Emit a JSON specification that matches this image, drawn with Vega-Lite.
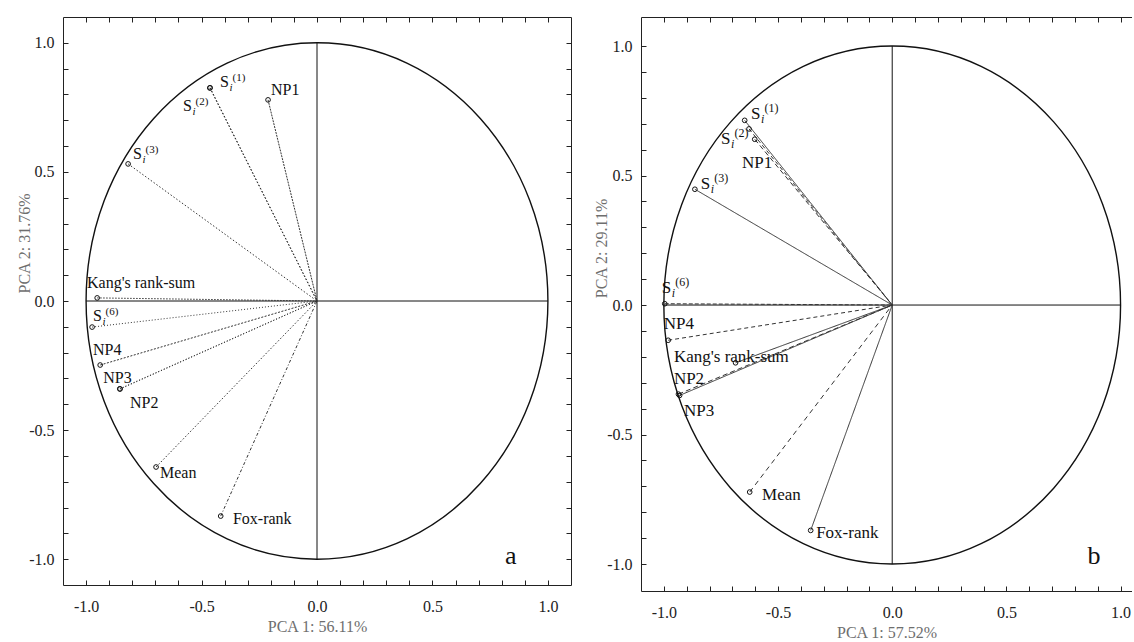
{
"$schema":"https://vega.github.io/schema/vega-lite/v6.json",
"padding":{"left":16,"top":16,"right":0,"bottom":0},
"background":"white",
"config":{"view":{"stroke":null},"font":"Liberation Serif",
 "axis":{"grid":false,"domainColor":"#222","tickColor":"#222","labelColor":"#222","labelFont":"Liberation Serif","labelFontSize":16,"titleFont":"Liberation Serif","titleFontSize":16,"titleFontWeight":"normal","titleColor":"#6e6e6e","labelOverlap":false,"labelFlush":false}},
"datasets":{
 "a":[
  {"var":"NP1","x":-0.212,"y":0.779,"lx":-0.199,"ly":0.798,"lab":"NP1"},
  {"var":"S1","x":-0.463,"y":0.826,"lx":-0.420,"ly":0.829,"lab":"S","sup":"(1)"},
  {"var":"S2","x":-0.464,"y":0.825,"lx":-0.580,"ly":0.736,"lab":"S","sup":"(2)"},
  {"var":"S3","x":-0.818,"y":0.531,"lx":-0.797,"ly":0.550,"lab":"S","sup":"(3)"},
  {"var":"Kang","x":-0.952,"y":0.012,"lx":-0.996,"ly":0.050,"lab":"Kang's rank-sum"},
  {"var":"S6","x":-0.974,"y":-0.101,"lx":-0.970,"ly":-0.078,"lab":"S","sup":"(6)"},
  {"var":"NP4","x":-0.939,"y":-0.248,"lx":-0.970,"ly":-0.209,"lab":"NP4"},
  {"var":"NP3","x":-0.854,"y":-0.340,"lx":-0.926,"ly":-0.318,"lab":"NP3"},
  {"var":"NP2","x":-0.853,"y":-0.341,"lx":-0.810,"ly":-0.415,"lab":"NP2"},
  {"var":"Mean","x":-0.697,"y":-0.643,"lx":-0.680,"ly":-0.686,"lab":"Mean"},
  {"var":"Fox","x":-0.417,"y":-0.833,"lx":-0.364,"ly":-0.864,"lab":"Fox-rank"}
 ],
 "b":[
  {"var":"NP1","x":-0.602,"y":0.640,"lx":-0.658,"ly":0.529,"lab":"NP1"},
  {"var":"S1","x":-0.646,"y":0.713,"lx":-0.618,"ly":0.718,"lab":"S","sup":"(1)"},
  {"var":"S2","x":-0.627,"y":0.680,"lx":-0.750,"ly":0.623,"lab":"S","sup":"(2)"},
  {"var":"S3","x":-0.864,"y":0.447,"lx":-0.838,"ly":0.448,"lab":"S","sup":"(3)"},
  {"var":"S6","x":-0.996,"y":0.005,"lx":-1.009,"ly":0.046,"lab":"S","sup":"(6)"},
  {"var":"NP4","x":-0.981,"y":-0.136,"lx":-1.0,"ly":-0.093,"lab":"NP4"},
  {"var":"Kang","x":-0.686,"y":-0.223,"lx":-0.956,"ly":-0.220,"lab":"Kang's rank-sum"},
  {"var":"NP2","x":-0.931,"y":-0.349,"lx":-0.956,"ly":-0.305,"lab":"NP2"},
  {"var":"NP3","x":-0.936,"y":-0.344,"lx":-0.912,"ly":-0.429,"lab":"NP3"},
  {"var":"Mean","x":-0.624,"y":-0.722,"lx":-0.570,"ly":-0.753,"lab":"Mean"},
  {"var":"Fox","x":-0.357,"y":-0.870,"lx":-0.333,"ly":-0.900,"lab":"Fox-rank"}
 ]
},
"spacing":21,
"resolve":{"scale":{"x":"independent","y":"independent","strokeDash":"independent"}},
"hconcat":[
{
 "width":508,"height":568,
 "data":{"name":"a"},
 "resolve":{"axis":{"x":"independent","y":"independent"}},
 "layer":[
  {"data":{"values":[{}]},
   "mark":{"type":"point","shape":"M0.8944,0C0.8944,0.5523,0.494,1,0,1C-0.494,1,-0.8944,0.5523,-0.8944,0C-0.8944,-0.5523,-0.494,-1,0,-1C0.494,-1,0.8944,-0.5523,0.8944,0Z","size":266629,"filled":false,"stroke":"#111","strokeWidth":1.4,"opacity":1},
   "encoding":{
    "x":{"datum":0,"type":"quantitative","scale":{"domain":[-1.1,1.1],"nice":false,"zero":false},
     "axis":{"orient":"bottom","values":[-1,-0.9,-0.8,-0.7,-0.6,-0.5,-0.4,-0.3,-0.2,-0.1,0,0.1,0.2,0.3,0.4,0.5,0.6,0.7,0.8,0.9,1],"labelExpr":"abs(datum.value*2-round(datum.value*2))<0.001 ? replace(format(datum.value,'.1f'),'\u2212','-') : ''","tickSize":-5,"labelPadding":18,"titlePadding":4,"title":"PCA 1: 56.11%"}},
    "y":{"datum":0,"type":"quantitative","scale":{"domain":[-1.1,1.1],"nice":false,"zero":false},
     "axis":{"orient":"left","values":[-1,-0.9,-0.8,-0.7,-0.6,-0.5,-0.4,-0.3,-0.2,-0.1,0,0.1,0.2,0.3,0.4,0.5,0.6,0.7,0.8,0.9,1],"labelExpr":"abs(datum.value*2-round(datum.value*2))<0.001 ? replace(format(datum.value,'.1f'),'\u2212','-') : ''","tickSize":-5,"labelPadding":14,"title":"PCA 2: 31.76%","titleX":-39,"titleY":226,"titleBaseline":"middle"}}
   }},
  {"data":{"values":[{}]},
   "mark":{"type":"rule","color":"#111","strokeWidth":1},
   "encoding":{
    "x":{"datum":-1,"type":"quantitative","axis":{"orient":"top","values":[-1,-0.9,-0.8,-0.7,-0.6,-0.5,-0.4,-0.3,-0.2,-0.1,0,0.1,0.2,0.3,0.4,0.5,0.6,0.7,0.8,0.9,1],"labels":false,"tickSize":-5,"title":null}},
    "x2":{"datum":1},
    "y":{"datum":0,"type":"quantitative","axis":{"orient":"right","values":[-1,-0.9,-0.8,-0.7,-0.6,-0.5,-0.4,-0.3,-0.2,-0.1,0,0.1,0.2,0.3,0.4,0.5,0.6,0.7,0.8,0.9,1],"labels":false,"tickSize":-5,"title":null}}
   }},
  {"data":{"values":[{}]},
   "mark":{"type":"rule","color":"#111","strokeWidth":1},
   "encoding":{"x":{"datum":0,"type":"quantitative","axis":null},"y":{"datum":-1,"type":"quantitative","axis":null},"y2":{"datum":1}}},
  {"mark":{"type":"rule","color":"#333","strokeWidth":1},
   "encoding":{"x":{"field":"x","type":"quantitative","axis":null},"y":{"field":"y","type":"quantitative","axis":null},"x2":{"datum":0},"y2":{"datum":0},
    "strokeDash":{"field":"var","type":"nominal","legend":null,"scale":{"domain":["NP1","S1","S2","S3","Kang","S6","NP4","NP3","NP2","Mean","Fox"],"range":[[2,1],[1.5,2],[1.5,2],[1.5,2],[1.5,1.5],[1,2],[2,1.5],[1,2],[1,2],[1.5,2],[3,2,1,2]]}}}},
  {"mark":{"type":"point","filled":false,"size":22,"stroke":"#111","strokeWidth":1,"opacity":1},
   "encoding":{"x":{"field":"x","type":"quantitative","axis":null},"y":{"field":"y","type":"quantitative","axis":null}}},
  {"mark":{"type":"text","align":"left","baseline":"alphabetic","fontSize":16,"color":"#111"},
   "encoding":{"x":{"field":"lx","type":"quantitative","axis":null},"y":{"field":"ly","type":"quantitative","axis":null},"text":{"field":"lab"}}},
  {"transform":[{"filter":"datum.sup"}],
   "mark":{"type":"text","align":"left","baseline":"alphabetic","fontSize":11,"fontStyle":"italic","color":"#111","text":"i","dx":9.5,"dy":4},
   "encoding":{"x":{"field":"lx","type":"quantitative","axis":null},"y":{"field":"ly","type":"quantitative","axis":null}}},
  {"transform":[{"filter":"datum.sup"}],
   "mark":{"type":"text","align":"left","baseline":"alphabetic","fontSize":11,"color":"#111","dx":12.5,"dy":-6},
   "encoding":{"x":{"field":"lx","type":"quantitative","axis":null},"y":{"field":"ly","type":"quantitative","axis":null},"text":{"field":"sup"}}},
  {"data":{"values":[{}]},
   "mark":{"type":"text","align":"left","baseline":"alphabetic","fontSize":26,"color":"#111","text":"a"},
   "encoding":{"x":{"datum":0.814,"type":"quantitative","axis":null},"y":{"datum":-1.019,"type":"quantitative","axis":null}}}
 ]
},
{
 "width":491,"height":574,
 "data":{"name":"b"},
 "resolve":{"axis":{"x":"independent","y":"independent"}},
 "layer":[
  {"data":{"values":[{}]},
   "mark":{"type":"point","shape":"M0.8817,0C0.8817,0.5523,0.487,1,0,1C-0.487,1,-0.8817,0.5523,-0.8817,0C-0.8817,-0.5523,-0.487,-1,0,-1C0.487,-1,0.8817,-0.5523,0.8817,0Z","size":268324,"filled":false,"stroke":"#111","strokeWidth":1.4,"opacity":1},
   "encoding":{
    "x":{"datum":0,"type":"quantitative","scale":{"domain":[-1.1,1.05],"nice":false,"zero":false},
     "axis":{"orient":"bottom","values":[-1,-0.9,-0.8,-0.7,-0.6,-0.5,-0.4,-0.3,-0.2,-0.1,0,0.1,0.2,0.3,0.4,0.5,0.6,0.7,0.8,0.9,1],"labelExpr":"abs(datum.value*2-round(datum.value*2))<0.001 ? replace(format(datum.value,'.1f'),'\u2212','-') : ''","tickSize":-5,"labelPadding":18,"titlePadding":4,"title":"PCA 1: 57.52%"}},
    "y":{"datum":0,"type":"quantitative","scale":{"domain":[-1.104,1.112],"nice":false,"zero":false},
     "axis":{"orient":"left","values":[-1,-0.9,-0.8,-0.7,-0.6,-0.5,-0.4,-0.3,-0.2,-0.1,0,0.1,0.2,0.3,0.4,0.5,0.6,0.7,0.8,0.9,1],"labelExpr":"abs(datum.value*2-round(datum.value*2))<0.001 ? replace(format(datum.value,'.1f'),'\u2212','-') : ''","tickSize":-5,"labelPadding":14,"title":"PCA 2: 29.11%","titleX":-40,"titleY":231,"titleBaseline":"middle"}}
   }},
  {"data":{"values":[{}]},
   "mark":{"type":"rule","color":"#111","strokeWidth":1},
   "encoding":{
    "x":{"datum":-1,"type":"quantitative","axis":{"orient":"top","values":[-1,-0.9,-0.8,-0.7,-0.6,-0.5,-0.4,-0.3,-0.2,-0.1,0,0.1,0.2,0.3,0.4,0.5,0.6,0.7,0.8,0.9,1],"labels":false,"tickSize":-5,"title":null}},
    "x2":{"datum":1},
    "y":{"datum":0,"type":"quantitative","axis":null}
   }},
  {"data":{"values":[{}]},
   "mark":{"type":"rule","color":"#111","strokeWidth":1},
   "encoding":{"x":{"datum":0,"type":"quantitative","axis":null},"y":{"datum":-1,"type":"quantitative","axis":null},"y2":{"datum":1}}},
  {"mark":{"type":"rule","color":"#333","strokeWidth":1},
   "encoding":{"x":{"field":"x","type":"quantitative","axis":null},"y":{"field":"y","type":"quantitative","axis":null},"x2":{"datum":0},"y2":{"datum":0},
    "strokeDash":{"field":"var","type":"nominal","legend":null,"scale":{"domain":["NP1","S1","S2","S3","S6","NP4","Kang","NP2","NP3","Mean","Fox"],"range":[[5,3],[1,0],[4,3],[1,0],[4,2],[4,3],[1,0],[1,0],[5,3],[5,4],[1,0]]}}}},
  {"mark":{"type":"point","filled":false,"size":22,"stroke":"#111","strokeWidth":1,"opacity":1},
   "encoding":{"x":{"field":"x","type":"quantitative","axis":null},"y":{"field":"y","type":"quantitative","axis":null}}},
  {"mark":{"type":"text","align":"left","baseline":"alphabetic","fontSize":17,"color":"#111"},
   "encoding":{"x":{"field":"lx","type":"quantitative","axis":null},"y":{"field":"ly","type":"quantitative","axis":null},"text":{"field":"lab"}}},
  {"transform":[{"filter":"datum.sup"}],
   "mark":{"type":"text","align":"left","baseline":"alphabetic","fontSize":12,"fontStyle":"italic","color":"#111","text":"i","dx":10,"dy":4},
   "encoding":{"x":{"field":"lx","type":"quantitative","axis":null},"y":{"field":"ly","type":"quantitative","axis":null}}},
  {"transform":[{"filter":"datum.sup"}],
   "mark":{"type":"text","align":"left","baseline":"alphabetic","fontSize":12,"color":"#111","dx":13.5,"dy":-7},
   "encoding":{"x":{"field":"lx","type":"quantitative","axis":null},"y":{"field":"ly","type":"quantitative","axis":null},"text":{"field":"sup"}}},
  {"data":{"values":[{}]},
   "mark":{"type":"text","align":"left","baseline":"alphabetic","fontSize":26,"color":"#111","text":"b"},
   "encoding":{"x":{"datum":0.855,"type":"quantitative","axis":null},"y":{"datum":-1.0,"type":"quantitative","axis":null}}}
 ]
}
]
}
